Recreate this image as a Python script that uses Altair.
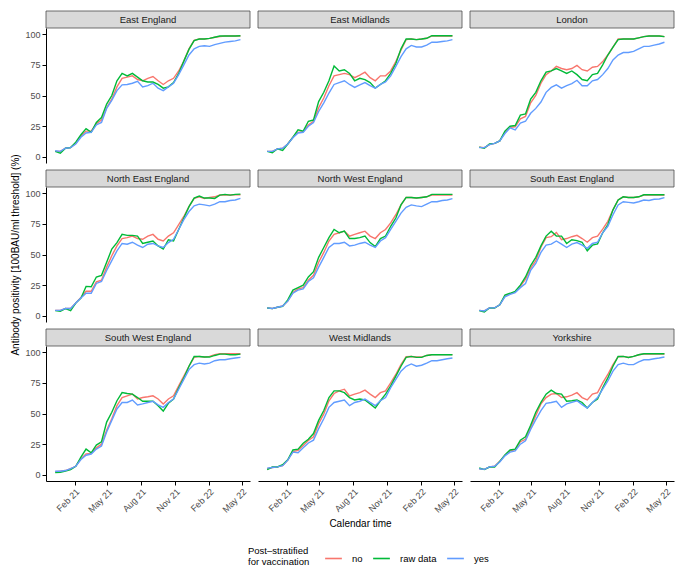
import altair as alt
import pandas as pd

# ---------------- data ----------------
DATES = [
    "2020-12-10", "2020-12-24", "2021-01-07", "2021-01-21", "2021-02-04", "2021-02-18",
    "2021-03-04", "2021-03-18", "2021-04-01", "2021-04-15", "2021-04-29", "2021-05-13",
    "2021-05-27", "2021-06-10", "2021-06-24", "2021-07-08", "2021-07-22", "2021-08-05",
    "2021-08-19", "2021-09-02", "2021-09-16", "2021-09-30", "2021-10-14", "2021-10-28",
    "2021-11-11", "2021-11-25", "2021-12-09", "2021-12-23", "2022-01-06", "2022-01-20",
    "2022-02-03", "2022-02-17", "2022-03-03", "2022-03-17", "2022-03-31", "2022-04-14",
    "2022-04-28",
]
REGIONS = [
    "East England", "East Midlands", "London",
    "North East England", "North West England", "South East England",
    "South West England", "West Midlands", "Yorkshire",
]
SERIES = ["no", "raw data", "yes"]
COLORS = ["#F8766D", "#00BA38", "#619CFF"]
X_TICKS = ["2021-02-01", "2021-05-01", "2021-08-01", "2021-11-01", "2022-02-01", "2022-05-01"]
X_DOMAIN = ["2020-11-15", "2022-05-24"]
Y_TICKS = [0, 25, 50, 75, 100]

EE_NO = [4.5, 4.5, 7, 7.5, 11, 17, 21, 21, 27, 30, 40, 47, 57, 64, 65, 66, 63, 62, 64, 65.5, 62, 59, 62, 64, 70, 78, 88, 95, 96, 96, 96.5, 97.5, 98, 98.5, 98.5, 98.5, 98.5]
EE_RAW = [4.5, 3, 7, 7.6, 12, 18, 23, 20, 28, 32, 43, 50, 62, 68, 66, 68, 65, 62, 61, 61, 59, 56, 57, 60.5, 68, 78, 87.6, 94.7, 96, 96, 96.5, 97.5, 98.5, 98.5, 98.5, 98.5, 98.7]
EE_YES = [5, 4.5, 7, 7.5, 10.5, 16, 19.5, 20, 26, 28, 39.5, 46, 54, 58.7, 59, 60, 61.5, 57, 58, 60, 56, 54, 57, 60, 67, 75, 83, 88, 90, 90.5, 90, 91.5, 92.5, 93.5, 94, 94.5, 95.5]

EM_NO = [4.5, 4.5, 6.5, 7, 10.5, 16, 20, 20.5, 26, 29, 40, 48, 58, 66, 67, 68, 67, 64.5, 66.6, 69, 64.5, 62, 66, 66, 70, 77.6, 87, 95.5, 96, 95.5, 96, 96.6, 98.5, 98.5, 98.5, 98.5, 98.5]
EM_RAW = [4.5, 3.4, 6.6, 5.3, 10.5, 16, 22, 21, 29, 30, 45, 52.6, 62, 74, 70, 71, 68, 62, 64, 63, 60.5, 56, 59, 62, 68, 76, 88, 96, 96, 95.5, 96, 96.6, 98.7, 98.7, 98.7, 98.7, 98.7]
EM_YES = [4.5, 4.5, 6.5, 7, 10.5, 15.5, 19.5, 20, 25, 28, 37, 44, 52, 59, 60.5, 62, 59, 56.6, 58.7, 60.5, 58, 56, 59, 61, 66, 73.7, 81.6, 88, 90.8, 89.5, 89.5, 91, 93.4, 93.4, 94, 94.5, 95.5]

LO_NO = [7.9, 7.5, 10, 11, 13, 20, 24, 24.5, 31, 33, 44, 50, 60, 67, 70, 73.7, 72, 71, 72, 74.5, 71, 70, 73, 73.7, 77.6, 83, 89.5, 96, 96, 96, 96, 97, 98, 98.5, 98.5, 98.5, 98]
LO_RAW = [7.9, 7, 10.5, 11, 13, 21, 25, 25.5, 34, 35, 47, 52.6, 62, 69, 70, 72, 70, 68, 70, 67, 63, 62, 67, 68, 75, 83, 89.5, 95.5, 96, 96, 96, 97, 98, 98.5, 98.5, 98.5, 98]
LO_YES = [7.5, 7.5, 10, 11, 13, 19, 23.7, 22, 27.6, 29, 35.5, 39.5, 44.7, 52.6, 56.6, 58.7, 56, 58, 59.7, 62.4, 58, 58, 62, 63, 67, 72, 79, 83, 85, 85, 86, 88, 90, 90, 91, 92, 93.4]

NE_NO = [4.5, 4.5, 6, 6, 10.5, 15, 20, 20, 27.7, 29, 39.7, 49, 57, 63, 63.7, 65, 63, 62.4, 65, 66.4, 62.4, 61, 65, 67.7, 74.4, 81, 89, 95.7, 97, 95.7, 96.5, 97, 98.5, 98.5, 98.5, 98.7, 98.7]
NE_RAW = [4.3, 3.7, 5.9, 4.3, 10.4, 14.4, 24, 23.7, 31.7, 33, 43.7, 54.4, 59.7, 66.4, 65.6, 65.6, 65, 59, 60, 61, 57, 54.4, 62, 61, 70.4, 79.7, 89, 96, 97.6, 96, 96, 95.7, 98.4, 99, 98.4, 99, 99.2]
NE_YES = [4.5, 4.5, 6, 6, 10.5, 14.5, 18.4, 18.4, 26.4, 28, 37, 45, 53, 59, 58.4, 60, 57.6, 55.7, 58.4, 59, 57, 55.7, 59.7, 62.4, 70.4, 78.4, 85, 89.6, 91, 90.4, 89.6, 91, 93, 93, 94, 94.4, 95.7]

NW_NO = [6.5, 6, 7, 8, 12, 19, 22, 23, 29, 33, 43.7, 51.7, 61, 66.4, 67.7, 69, 65, 66.4, 67.7, 69, 65, 63, 67.7, 70.4, 75.7, 82.4, 90.4, 96.5, 96.5, 96, 96.5, 97, 98.5, 98.5, 98.5, 98.5, 98.5]
NW_RAW = [6.4, 5.9, 7, 7.7, 13, 21, 23, 25, 31.7, 36, 47.7, 55.7, 63.7, 70.4, 67.7, 69, 63, 63, 63.7, 65, 59.7, 56.5, 63, 65, 73, 79.7, 90.4, 96.5, 96.5, 96, 96.5, 97, 99, 99, 99, 99, 99]
NW_YES = [6.5, 6, 7, 8, 12, 18.5, 21, 22, 28, 31, 39.7, 47.7, 55.7, 59, 59, 60, 57, 57.6, 59, 60, 57.6, 55.7, 61, 63.7, 70.4, 77, 83.7, 88.5, 90.4, 89.6, 89, 91, 93, 93, 94, 94.4, 95.5]

SE_NO = [4.5, 4, 6.5, 6.5, 9, 16, 18, 19.5, 24, 30, 39, 45, 56, 63.7, 64.5, 68, 62, 63, 64.5, 65.6, 63, 60, 63.7, 65, 70.7, 77, 86.4, 94.4, 97, 96.5, 96.5, 97, 98.5, 98.5, 98.5, 98.5, 98.5]
SE_RAW = [4.3, 3.2, 6.4, 6.4, 9, 17, 18.4, 20, 25, 31.7, 41, 47.7, 57, 65, 69, 65, 65, 59, 62, 61.3, 60, 53, 57.6, 58.7, 67.7, 74.4, 86.4, 94.4, 97, 96.5, 96.5, 97, 98.7, 98.7, 98.7, 98.7, 98.7]
SE_YES = [4.5, 4, 6.5, 6.5, 9, 15.5, 17.5, 19, 23, 26.4, 37, 42.7, 51.7, 57.6, 58.4, 61, 58.4, 55.7, 58.4, 59.7, 57.6, 55, 59, 60, 67.7, 73, 82.4, 90.4, 93, 92.5, 92, 93, 94.4, 94, 95, 95.2, 96.3]

SW_NO = [2.5, 3, 3.5, 5, 7, 13, 17, 17.5, 22, 25, 36.4, 45.7, 56.4, 63, 64.4, 65.8, 61.8, 63, 63.6, 64.4, 61.8, 57.8, 61.8, 64.4, 72.5, 80.5, 88.5, 95.7, 96.5, 96, 96.5, 97.9, 98.7, 98.7, 98.7, 98.7, 98.7]
SW_RAW = [1.8, 2.1, 3, 4.3, 7, 14.4, 21, 18, 24.3, 27, 43, 51, 60.4, 67, 66.3, 65.8, 63, 60, 60, 60, 56.4, 52, 58.3, 61.8, 71, 79, 88.5, 96.5, 96.5, 96, 96, 97.3, 98.4, 98.4, 97.9, 97.9, 98.4]
SW_YES = [3, 3, 3.5, 5, 7, 12.5, 16, 17, 21, 23.5, 35, 44.4, 53.7, 59, 59, 61, 57, 57.8, 59, 60, 57, 55, 59, 61.8, 69.8, 77.8, 85.8, 89.8, 91, 90.4, 91, 93, 93.8, 93.8, 94.6, 95.2, 95.7]

WM_NO = [5, 6, 6.5, 7.5, 12, 19, 20, 24, 28, 31, 41.7, 49.7, 60.4, 66.3, 68.4, 69.8, 64.4, 65.8, 67, 69, 65.8, 63, 67, 68.4, 75, 81.8, 89.8, 96.3, 96.5, 96, 96, 97.3, 98, 98, 98, 98, 98]
WM_RAW = [4.3, 6.4, 6.4, 8.3, 12.3, 20.3, 21, 25.7, 29, 33.7, 44.4, 52.4, 63, 68.4, 68.4, 67, 63, 61, 61.8, 61, 57.8, 54.5, 60.4, 65.8, 72.5, 80.5, 88.5, 95.7, 96.5, 95.7, 95.7, 97.3, 97.9, 97.9, 97.9, 97.9, 97.9]
WM_YES = [5.5, 6, 6.5, 7.5, 12, 18.5, 18, 22, 26, 28.3, 37.7, 45.7, 55, 59, 60, 61, 56.4, 59, 60, 61.8, 59, 56.4, 60.4, 63, 71, 77.8, 84.5, 88.5, 90.4, 88.5, 89.3, 91, 93, 93, 93.8, 94.6, 95.2]

YO_NO = [5, 4.5, 6.5, 7, 11, 16, 19.5, 20.5, 27, 29, 38.5, 48.4, 57.8, 63, 65.8, 66.3, 63, 63.6, 65, 67, 63, 61, 65.8, 67, 75, 81.8, 89.8, 96.3, 96.5, 95.7, 96.5, 97.9, 98.5, 98.5, 98.5, 98.5, 98.5]
YO_RAW = [5.6, 4.3, 6.4, 6.4, 11, 16.3, 20.3, 21, 28.3, 31, 40.4, 51, 59, 65.8, 69, 66.3, 65.8, 60, 60.4, 61, 59, 54.5, 59, 61.8, 71, 79, 88.5, 96.5, 96.5, 95.7, 96.5, 97.9, 98.7, 98.7, 98.7, 98.7, 98.7]
YO_YES = [5, 4.5, 6.5, 7, 10.5, 15.5, 18.5, 19.5, 25, 27.8, 37, 45, 52.4, 58.3, 59, 60, 55, 57.8, 59, 60.4, 57.2, 54.5, 59, 63, 69.8, 76.5, 84.5, 89.8, 91, 89.8, 89.8, 92, 93.8, 93.8, 94.6, 95.2, 96]

REGION_SERIES = [
    (EE_NO, EE_RAW, EE_YES), (EM_NO, EM_RAW, EM_YES), (LO_NO, LO_RAW, LO_YES),
    (NE_NO, NE_RAW, NE_YES), (NW_NO, NW_RAW, NW_YES), (SE_NO, SE_RAW, SE_YES),
    (SW_NO, SW_RAW, SW_YES), (WM_NO, WM_RAW, WM_YES), (YO_NO, YO_RAW, YO_YES),
]

# ---------------- layout / style ----------------
W = 204
H = 135
SH = 17
FONT = "Liberation Sans"


def ms(s):
    return int(pd.Timestamp(s, tz="UTC").value // 10**6)


color_scale = alt.Scale(domain=SERIES, range=COLORS)
legend = alt.Legend(
    orient="none", legendX=202, legendY=521, direction="horizontal",
    title=["Post\u2013stratified", "for vaccination"], titleOrient="left",
    titleAlign="left", titleAnchor="middle", titleFontWeight="normal",
    titleFontSize=9.5, titleColor="#000000", titlePadding=14,
    titleBaseline="middle", titleLineHeight=11,
    labelFontSize=9.5, labelColor="#000000", labelOffset=9,
    symbolType="stroke", symbolSize=280, symbolStrokeWidth=1.6,
    columnPadding=6,
)

panels = []
for i, (region, triple) in enumerate(zip(REGIONS, REGION_SERIES)):
    r, c = divmod(i, 3)
    rows = []
    for s, vals in zip(SERIES, triple):
        for d, v in zip(DATES, vals):
            rows.append({"date": d, "value": v, "series": s})
    df = pd.DataFrame(rows)

    if r == 2:
        xaxis = alt.Axis(
            values=[ms(t) for t in X_TICKS],
            labelExpr="utcFormat(datum.value, '%b %y')",
            labelAngle=-45, labelAlign="right", labelBaseline="top",
            labelFontSize=9, labelColor="#4D4D4D", labelPadding=2,
            labelOverlap=False,
            tickColor="#000000", tickSize=4, domainColor="#000000",
            grid=False, title="Calendar time" if c == 1 else None,
            titleFontSize=10, titleFontWeight="normal", titleColor="#000000",
            titlePadding=4,
        )
    else:
        xaxis = None
    if c == 0:
        yaxis = alt.Axis(
            values=Y_TICKS, labelFontSize=9, labelColor="#4D4D4D", labelPadding=2,
            tickColor="#000000", tickSize=4, domainColor="#000000", grid=False,
            title="Antibody positivity [100BAU/ml threshold] (%)" if r == 1 else None,
            titleFontSize=10, titleFontWeight="normal", titleColor="#000000",
            titlePadding=4,
        )
    else:
        yaxis = None

    lines = alt.Chart(df).mark_line(strokeWidth=1.4).encode(
        x=alt.X("date:T", scale=alt.Scale(type="utc", domain=[ms(t) for t in X_DOMAIN]), axis=xaxis),
        y=alt.Y("value:Q", scale=alt.Scale(domain=[-5, 105], nice=False, zero=False), axis=yaxis),
        color=alt.Color("series:N", scale=color_scale, legend=legend),
    )
    strip_df = pd.DataFrame({"label": [region]})
    strip_bg = alt.Chart(strip_df).mark_rect(
        fill="#D9D9D9", stroke="#4D4D4D", strokeWidth=0.8
    ).encode(x=alt.value(0), x2=alt.value(W), y=alt.value(-SH), y2=alt.value(0))
    strip_tx = alt.Chart(strip_df).mark_text(
        fontSize=9.5, color="#1A1A1A", font=FONT, align="center", baseline="middle"
    ).encode(text="label:N", x=alt.value(W / 2), y=alt.value(-SH / 2))

    panels.append(alt.layer(strip_bg, strip_tx, lines).properties(width=W, height=H))

chart = alt.concat(*panels, columns=3, spacing={"row": 7 + SH, "column": 8}).properties(
    align="each", bounds="flush",
    padding={"left": 2, "top": 2, "right": 2, "bottom": 0},
).configure(font=FONT).configure_view(stroke=None)

chart.save("out.html", embed_options={"renderer": "svg", "actions": False})
